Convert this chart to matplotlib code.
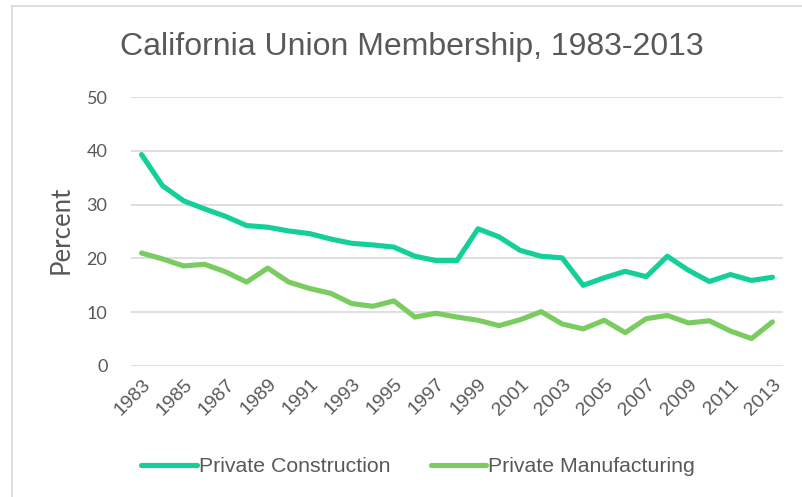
import matplotlib
matplotlib.use("Agg")
import matplotlib.pyplot as plt
from matplotlib.lines import Line2D

years = list(range(1983, 2014))
construction = [39.3, 33.5, 30.7, 29.2, 27.8, 26.1, 25.8, 25.1, 24.6, 23.6,
                22.8, 22.5, 22.1, 20.4, 19.6, 19.6, 25.5, 24.0, 21.5, 20.4,
                20.1, 15.0, 16.4, 17.6, 16.6, 20.4, 17.8, 15.7, 17.0, 15.9, 16.5]
manufacturing = [21.0, 19.9, 18.6, 18.9, 17.5, 15.6, 18.2, 15.6, 14.4, 13.5,
                 11.6, 11.1, 12.1, 9.1, 9.8, 9.1, 8.5, 7.5, 8.6, 10.1,
                 7.8, 6.9, 8.5, 6.2, 8.8, 9.4, 8.0, 8.4, 6.5, 5.1, 8.2]
series_names = ["Private Construction", "Private Manufacturing"]
colors = ["#14CF99", "#7BCC60"]
yticks = [0, 10, 20, 30, 40, 50]

W, H = 802, 497
fig = plt.figure(figsize=(W / 100, H / 100), dpi=100)
ax = fig.add_axes([131 / W, 1 - 366 / H, (783 - 131) / W, (366 - 97) / H])

x = list(range(len(years)))
ax.plot(x, construction, color=colors[0], lw=3.7, solid_capstyle="round",
        solid_joinstyle="round", label=series_names[0], zorder=3)
ax.plot(x, manufacturing, color=colors[1], lw=3.7, solid_capstyle="round",
        solid_joinstyle="round", label=series_names[1], zorder=3)

ax.set_xlim(-0.5, len(years) - 0.5)
ax.set_ylim(0, 50)
ax.set_yticks(yticks)
ax.set_yticklabels([str(v) for v in yticks], fontsize=13, color="#595959",
                   family="Lato")
ax.set_xticks(x[::2])
ax.set_xticklabels([str(y) for y in years[::2]], rotation=45, ha="right",
                   rotation_mode="anchor", fontsize=14, color="#595959",
                   family="Liberation Sans")
ax.tick_params(axis="both", length=0)
ax.tick_params(axis="y", pad=17)
ax.tick_params(axis="x", pad=7)
ax.grid(axis="y", color="#D9D9D9", lw=1.2, zorder=0)
for s in ax.spines.values():
    s.set_visible(False)

fig.text(61 / W, 1 - 230 / H, "Percent", rotation=90, ha="center",
         va="center", fontsize=18.5, color="#595959", family="Lato")

fig.text(412 / W, 1 - 47 / H, "California Union Membership, 1983-2013",
         ha="center", va="center", fontsize=23, color="#595959",
         family="Liberation Sans")

leg = fig.legend(loc="center", bbox_to_anchor=(418 / W, 1 - 467 / H), ncol=2,
                 frameon=False, handlelength=2.6,
                 handletextpad=0.1, columnspacing=1.9,
                 prop={"family": "Liberation Sans", "size": 15.3})
for t in leg.get_texts():
    t.set_color("#595959")

fig.add_artist(Line2D([12 / W, 12 / W], [0, 1 - 6 / H],
                      transform=fig.transFigure, color="#D9D9D9", lw=1.2))
fig.add_artist(Line2D([12 / W, 1], [1 - 6 / H, 1 - 6 / H],
                      transform=fig.transFigure, color="#D9D9D9", lw=1.2))

fig.savefig("out.png", dpi=100)
